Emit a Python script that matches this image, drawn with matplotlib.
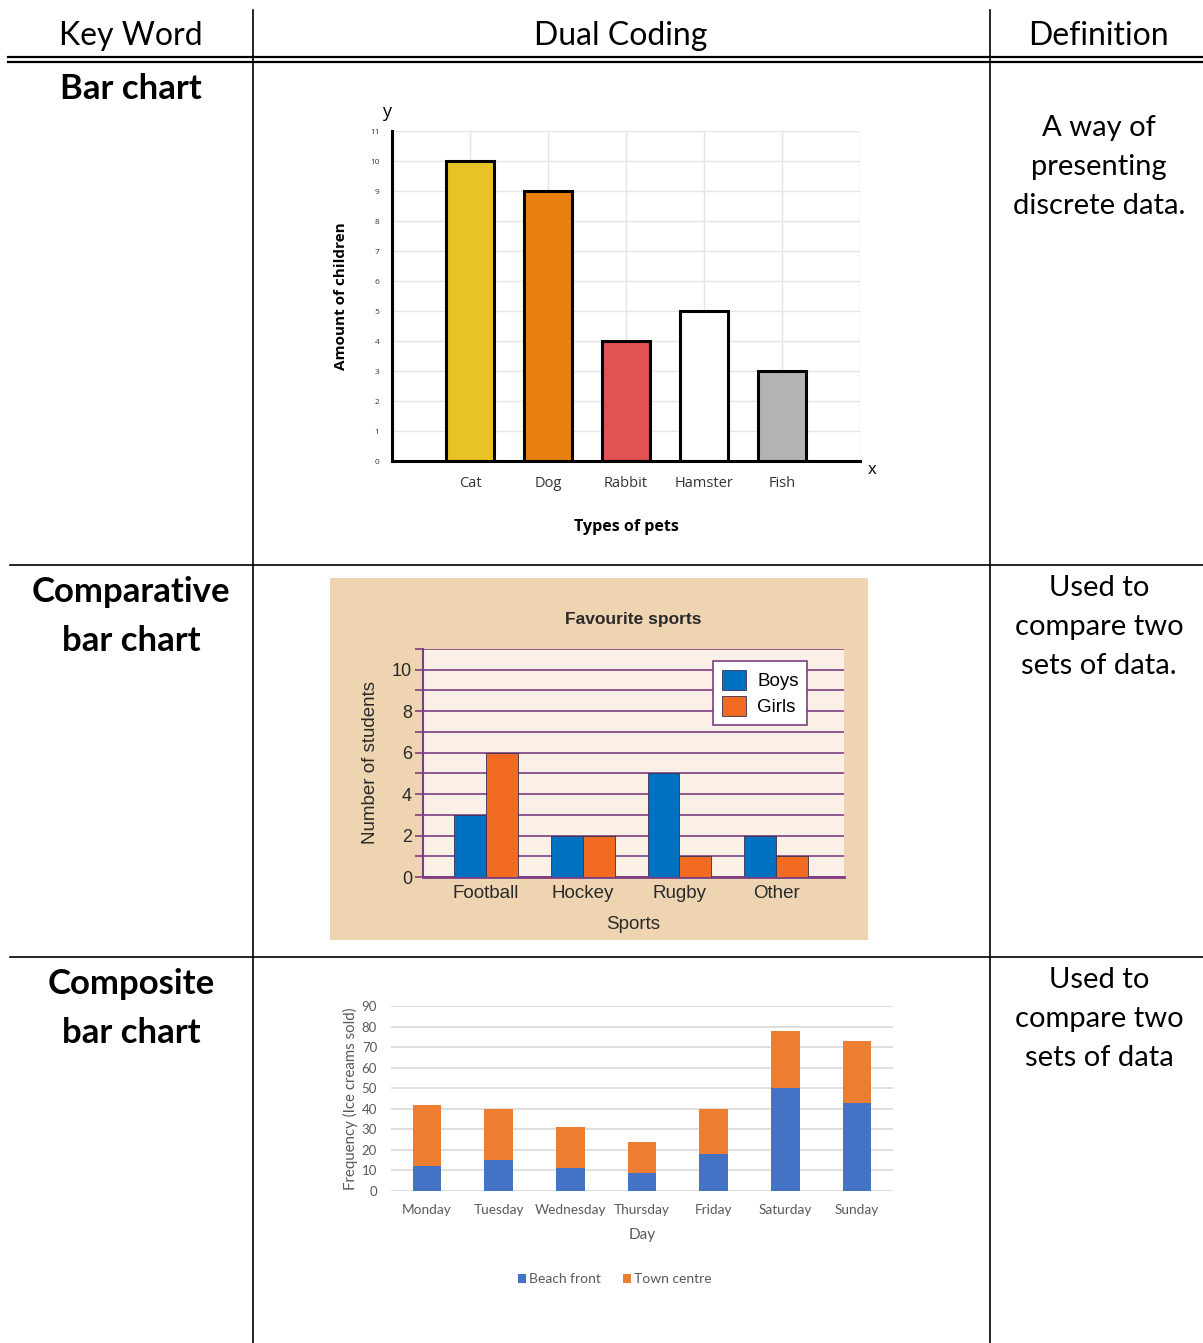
import matplotlib
matplotlib.use("Agg")
import matplotlib.pyplot as plt
from matplotlib.patches import Rectangle, Patch

W, H = 1203, 1343

# --- data ---
pets = ["Cat", "Dog", "Rabbit", "Hamster", "Fish"]
pet_counts = [10, 9, 4, 5, 3]
pet_colors = ["#E8C326", "#E88011", "#E25153", "#FFFFFF", "#B3B3B3"]

sports = ["Football", "Hockey", "Rugby", "Other"]
boys = [3, 2, 5, 2]
girls = [6, 2, 1, 1]

days = ["Monday", "Tuesday", "Wednesday", "Thursday", "Friday", "Saturday", "Sunday"]
beach_front = [12, 15, 11, 9, 18, 50, 43]
town_centre = [30, 25, 20, 15, 22, 28, 30]

key_words = [["Bar chart"], ["Comparative", "bar chart"], ["Composite", "bar chart"]]
definitions = [["A way of", "presenting", "discrete data."],
               ["Used to", "compare two", "sets of data."],
               ["Used to", "compare two", "sets of data"]]

fig = plt.figure(figsize=(W / 100, H / 100), dpi=100)


def px_axes(x0, y0, x1, y1):
    return fig.add_axes([x0 / W, 1 - y1 / H, (x1 - x0) / W, (y1 - y0) / H])


# --- table frame ---
bg = fig.add_axes([0, 0, 1, 1])
bg.set_xlim(0, W)
bg.set_ylim(H, 0)
bg.axis("off")

tfont = "Lato"
bg.plot([8, W], [57, 57], color="black", lw=1.6)
bg.plot([8, W], [61.5, 61.5], color="black", lw=1.6)
bg.plot([10, W], [565, 565], color="black", lw=1.2)
bg.plot([10, W], [957, 957], color="black", lw=1.2)
bg.plot([253, 253], [10, H], color="black", lw=1.2)
bg.plot([990, 990], [10, H], color="black", lw=1.2)

for x, t in [(131, "Key Word"), (621, "Dual Coding"), (1098, "Definition")]:
    bg.text(x, 36, t, ha="center", va="center", fontsize=23, family=tfont)

row_tops = [89, 592, 984]
def_tops = [128, 588, 980]
for top, dtop, words, defs in zip(row_tops, def_tops, key_words, definitions):
    for i, w in enumerate(words):
        bg.text(131, top + i * 49, w, ha="center", va="center", fontsize=25,
                family=tfont, fontweight="bold")
    for i, d in enumerate(defs):
        bg.text(1099, dtop + i * 39, d, ha="center", va="center", fontsize=21,
                family=tfont)

# --- chart 1: bar chart ---
ax1 = px_axes(392, 131, 860, 461)
ax1.bar(range(1, 6), pet_counts, width=0.62, color=pet_colors, edgecolor="black",
        linewidth=2.2, zorder=3)
ax1.set_xlim(0, 6)
ax1.set_ylim(0, 11)
ax1.set_yticks(range(0, 12))
ax1.set_xticks(range(1, 7))
ax1.set_xticklabels(pets + [""], fontsize=10.5, family="Open Sans", color="#333333")
ax1.set_yticklabels([str(v) for v in range(0, 12)], fontsize=6, family="Open Sans",
                    color="#333333")
ax1.tick_params(length=0)
ax1.tick_params(axis="x", pad=11)
ax1.tick_params(axis="y", pad=9)
ax1.grid(color="#E4E4E4", lw=1, zorder=0)
for s in ["top", "right"]:
    ax1.spines[s].set_visible(False)
for s in ["left", "bottom"]:
    ax1.spines[s].set_linewidth(2.2)
    ax1.spines[s].set_zorder(4)
ax1.set_xlabel("Types of pets", fontsize=11.5, fontweight="bold", family="Open Sans",
               labelpad=20)
ax1.set_ylabel("Amount of children", fontsize=11, fontweight="bold",
               family="Open Sans", labelpad=16)
bg.text(387, 112, "y", ha="center", va="center", fontsize=13, family="Open Sans")
bg.text(872, 470, "x", ha="center", va="center", fontsize=12, family="Open Sans")

# --- chart 2: comparative bar chart ---
bg.add_patch(Rectangle((330, 578), 538, 362, facecolor="#EED4B1", edgecolor="none"))
ax2 = px_axes(423, 649, 844, 877)
ax2.set_facecolor("#FBF0E6")
purple = "#7D3E82"
xs = range(len(sports))
ax2.bar([x - 0.165 for x in xs], boys, width=0.33, color="#0070C0",
        edgecolor="#3A3050", linewidth=0.6, zorder=3, label="Boys")
ax2.bar([x + 0.165 for x in xs], girls, width=0.33, color="#F26B22",
        edgecolor="#3A3050", linewidth=0.6, zorder=3, label="Girls")
ax2.set_xlim(-0.65, 3.7)
ax2.set_ylim(0, 11)
ax2.set_yticks(range(0, 11, 2))
ax2.set_yticks(range(0, 12), minor=True)
ax2.set_xticks(list(xs))
ax2.set_xticklabels(sports, fontsize=13.5, family="Liberation Sans", color="#2A2A2A")
ax2.set_yticklabels([str(v) for v in range(0, 11, 2)], fontsize=13,
                    family="Liberation Sans", color="#2A2A2A")
ax2.tick_params(axis="x", length=0, pad=6)
ax2.tick_params(axis="y", which="both", length=6, width=1.2, color=purple, pad=2)
ax2.grid(axis="y", which="both", color=purple, lw=1.2, zorder=1)
for s in ["top", "right"]:
    ax2.spines[s].set_visible(False)
ax2.spines["left"].set_color(purple)
ax2.spines["left"].set_linewidth(1.5)
ax2.spines["bottom"].set_color(purple)
ax2.spines["bottom"].set_linewidth(2)
ax2.set_title("Favourite sports", fontsize=12.5, fontweight="bold",
              family="Liberation Sans", color="#2A2A2A", pad=18)
ax2.set_xlabel("Sports", fontsize=13.5, family="Liberation Sans", color="#2A2A2A",
               labelpad=10)
ax2.set_ylabel("Number of students", fontsize=13.5, family="Liberation Sans",
               color="#2A2A2A", labelpad=9)
leg = ax2.legend(loc="upper right", bbox_to_anchor=(0.913, 0.947), borderaxespad=0,
                 fancybox=False, framealpha=1, edgecolor=purple, handlelength=1.3,
                 handleheight=1.3, handletextpad=0.6,
                 prop={"family": "Liberation Sans", "size": 13.5},
                 labelspacing=0.3, borderpad=0.45)
leg.get_frame().set_linewidth(1.2)

# --- chart 3: composite bar chart ---
ax3 = px_axes(391, 1006, 893, 1191)
xs3 = range(len(days))
ax3.bar(xs3, beach_front, width=0.4, color="#4472C4", zorder=3)
ax3.bar(xs3, town_centre, width=0.4, bottom=beach_front, color="#ED7D31", zorder=3)
ax3.set_xlim(-0.5, 6.5)
ax3.set_ylim(0, 90)
ax3.set_yticks(range(0, 91, 10))
ax3.set_xticks(list(xs3))
ax3.set_xticklabels(days, fontsize=9.8, family="Lato", color="#595959")
ax3.set_yticklabels([str(v) for v in range(0, 91, 10)], fontsize=9.5, family="Lato",
                    color="#595959")
ax3.tick_params(length=0)
ax3.tick_params(axis="x", pad=9)
ax3.tick_params(axis="y", pad=10)
ax3.grid(axis="y", color="#D9D9D9", lw=1.2, zorder=0)
for s in ax3.spines.values():
    s.set_visible(False)
ax3.set_xlabel("Day", fontsize=11, family="Lato", color="#595959", labelpad=9)
ax3.set_ylabel("Frequency (Ice creams sold)", fontsize=10.8, family="Lato",
               color="#595959", labelpad=3)
handles = [Patch(facecolor="#4472C4"), Patch(facecolor="#ED7D31")]
ax3.legend(handles, ["Beach front", "Town centre"], loc="center",
           bbox_to_anchor=(0.446, -0.476), ncol=2, frameon=False, handlelength=0.6,
           handleheight=0.6, handletextpad=0.2, columnspacing=1.6,
           prop={"family": "Lato", "size": 10}, labelcolor="#595959")

fig.savefig("out.png", dpi=100)
